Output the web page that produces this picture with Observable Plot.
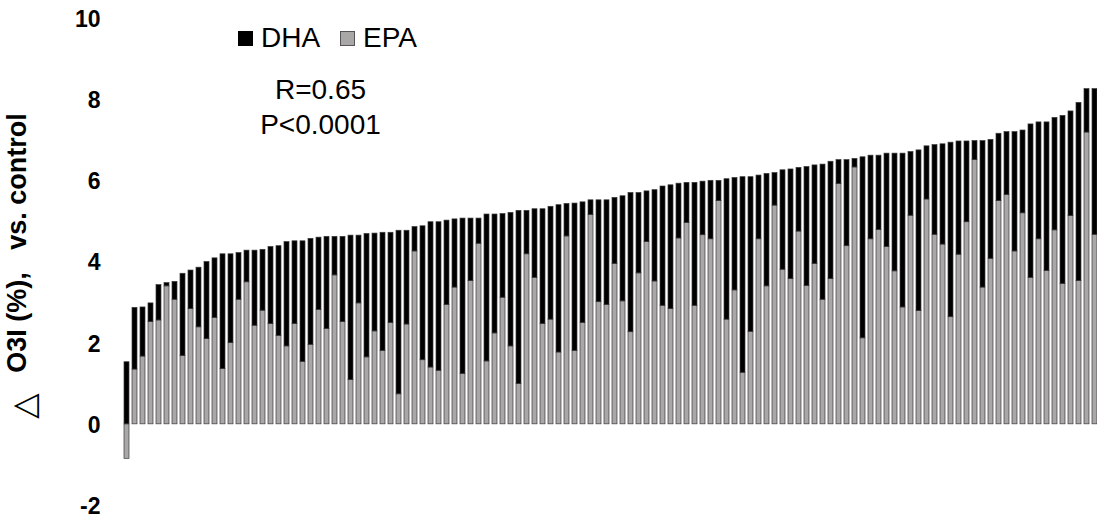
<!DOCTYPE html>
<html>
<head>
<meta charset="utf-8">
<script src="https://cdn.jsdelivr.net/npm/d3@7"></script>
<script src="https://cdn.jsdelivr.net/npm/@observablehq/plot@0.6"></script>
<style>
  html, body { margin: 0; padding: 0; background: #fff; }
  #wrap { position: relative; width: 1097px; height: 521px; font-family: "Liberation Sans", Arial, sans-serif; }
  .leg { position: absolute; top: 22px; font-size: 28px; color: #000; display: flex; align-items: center; white-space: nowrap; }
  .sw { width: 15px; height: 15px; display: inline-block; box-sizing: border-box; margin-right: 8px; }
</style>
</head>
<body>
<div id="wrap"></div>
<script>
// Sorted subjects (by total ΔO3I); EPA share (grey) and DHA share (black)
const EPA = [
  -0.85, 1.35, 1.67, 2.52, 2.56, 3.40, 3.07, 1.68, 2.84, 2.39,
  2.10, 2.62, 1.36, 2.00, 3.07, 3.50, 2.43, 2.80, 2.47, 2.18,
  1.92, 2.47, 1.54, 1.96, 2.82, 2.35, 3.67, 2.52, 1.09, 2.98,
  1.65, 2.29, 1.81, 2.50, 0.74, 2.46, 4.26, 1.58, 1.40, 1.32,
  2.94, 3.37, 1.24, 3.53, 4.45, 1.55, 2.24, 3.12, 1.92, 0.99,
  4.19, 3.61, 2.47, 2.58, 1.77, 4.63, 1.81, 2.50, 5.16, 3.01,
  2.94, 3.95, 3.03, 2.27, 3.72, 4.49, 3.52, 2.92, 2.84, 4.58,
  4.96, 2.92, 4.66, 4.56, 5.50, 2.58, 3.30, 1.27, 2.28, 4.56,
  3.40, 5.39, 3.81, 3.58, 4.75, 3.41, 3.95, 3.07, 3.58, 5.92,
  4.39, 6.33, 2.12, 4.56, 4.79, 4.37, 3.77, 2.88, 5.14, 2.79,
  5.54, 4.67, 4.43, 2.64, 4.18, 4.98, 6.51, 3.37, 4.08, 5.50,
  5.65, 4.26, 5.20, 3.61, 4.56, 3.78, 4.78, 3.46, 5.13, 3.53,
  7.19, 4.67
];
const DHA = [
  1.53, 1.52, 1.21, 0.46, 0.87, 0.08, 0.44, 2.03, 0.95, 1.47,
  1.90, 1.47, 2.83, 2.19, 1.15, 0.78, 1.85, 1.50, 1.90, 2.21,
  2.57, 2.04, 2.97, 2.61, 1.78, 2.27, 0.95, 2.10, 3.56, 1.67,
  3.04, 2.41, 2.91, 2.22, 4.03, 2.31, 0.60, 3.30, 3.58, 3.66,
  2.08, 1.68, 3.83, 1.54, 0.62, 3.62, 2.93, 2.06, 3.29, 4.27,
  1.07, 1.69, 2.83, 2.78, 3.63, 0.80, 3.63, 2.97, 0.36, 2.51,
  2.58, 1.63, 2.59, 3.43, 1.98, 1.25, 2.25, 2.94, 3.05, 1.35,
  0.99, 3.03, 1.32, 1.44, 0.50, 3.46, 2.77, 4.82, 3.81, 1.57,
  2.77, 0.80, 2.45, 2.70, 1.57, 2.93, 2.43, 3.33, 2.89, 0.59,
  2.12, 0.21, 4.46, 2.06, 1.83, 2.30, 2.90, 3.79, 1.57, 3.96,
  1.31, 2.21, 2.47, 4.30, 2.79, 1.99, 0.47, 3.61, 2.93, 1.66,
  1.55, 2.94, 2.04, 3.78, 2.88, 3.66, 2.77, 4.14, 2.58, 4.39,
  1.07, 3.59
];
const seriesNames = ["DHA", "EPA"];
const seriesColors = ["#000000", "#aaa7a7"];
const yTicks = [-2, 0, 2, 4, 6, 8, 10];
const yLabelSymbol = "\u25B3";
const yLabel = "O3I (%),   vs. control";
const statText = "R=0.65\nP<0.0001";

const rows = [];
EPA.forEach((v, i) => {
  rows.push({i: i + 1, series: "EPA", value: v});
  rows.push({i: i + 1, series: "DHA", value: DHA[i]});
});

const font = "'Liberation Sans', Arial, sans-serif";

const chart = Plot.plot({
  width: 1097,
  height: 521,
  marginLeft: 124,
  marginRight: 0,
  marginTop: 18,
  marginBottom: 16,
  style: {fontFamily: font, background: "#fff"},
  x: {type: "band", domain: d3.range(1, EPA.length + 1), paddingInner: 0.4, paddingOuter: 0, axis: null},
  y: {domain: [-2, 10], axis: null},
  color: {domain: seriesNames, range: seriesColors},
  marks: [
    Plot.barY(rows, {x: "i", y: "value", fill: "series", stroke: "#3a3a3a", strokeWidth: 0.7}),
    // y tick labels (no axis line, no tick marks)
    Plot.text(yTicks, {y: d => d, frameAnchor: "left", dx: -24, dy: 1, textAnchor: "end", lineAnchor: "middle",
      text: d => String(d), fontSize: 23, fontWeight: "bold", fill: "#000"}),
    // y axis title
    Plot.text([yLabel], {frameAnchor: "left", rotate: -90, dx: -99, dy: -19, textAnchor: "middle",
      lineAnchor: "bottom", fontSize: 27, fontWeight: "bold", fill: "#000", letterSpacing: 1.1}),
    Plot.text([yLabelSymbol], {frameAnchor: "left", rotate: -90, dx: -90, dy: 144, textAnchor: "middle",
      lineAnchor: "bottom", fontSize: 33, fontFamily: "DejaVu Sans", fill: "#000"}),
    // statistics annotation
    Plot.text([statText], {frameAnchor: "top-left", dx: 196, dy: 115, textAnchor: "middle",
      lineAnchor: "bottom", lineHeight: 1.25, fontSize: 28, fill: "#000"})
  ]
});

const wrap = document.getElementById("wrap");
wrap.appendChild(chart);

seriesNames.forEach((name, k) => {
  const d = document.createElement("div");
  d.className = "leg";
  d.style.left = (k === 0 ? 238 : 340) + "px";
  const sw = document.createElement("span");
  sw.className = "sw";
  sw.style.background = seriesColors[k];
  sw.style.border = "1px solid " + (k === 0 ? "#000" : "#555");
  d.appendChild(sw);
  d.appendChild(document.createTextNode(name));
  wrap.appendChild(d);
});
</script>
</body>
</html>
